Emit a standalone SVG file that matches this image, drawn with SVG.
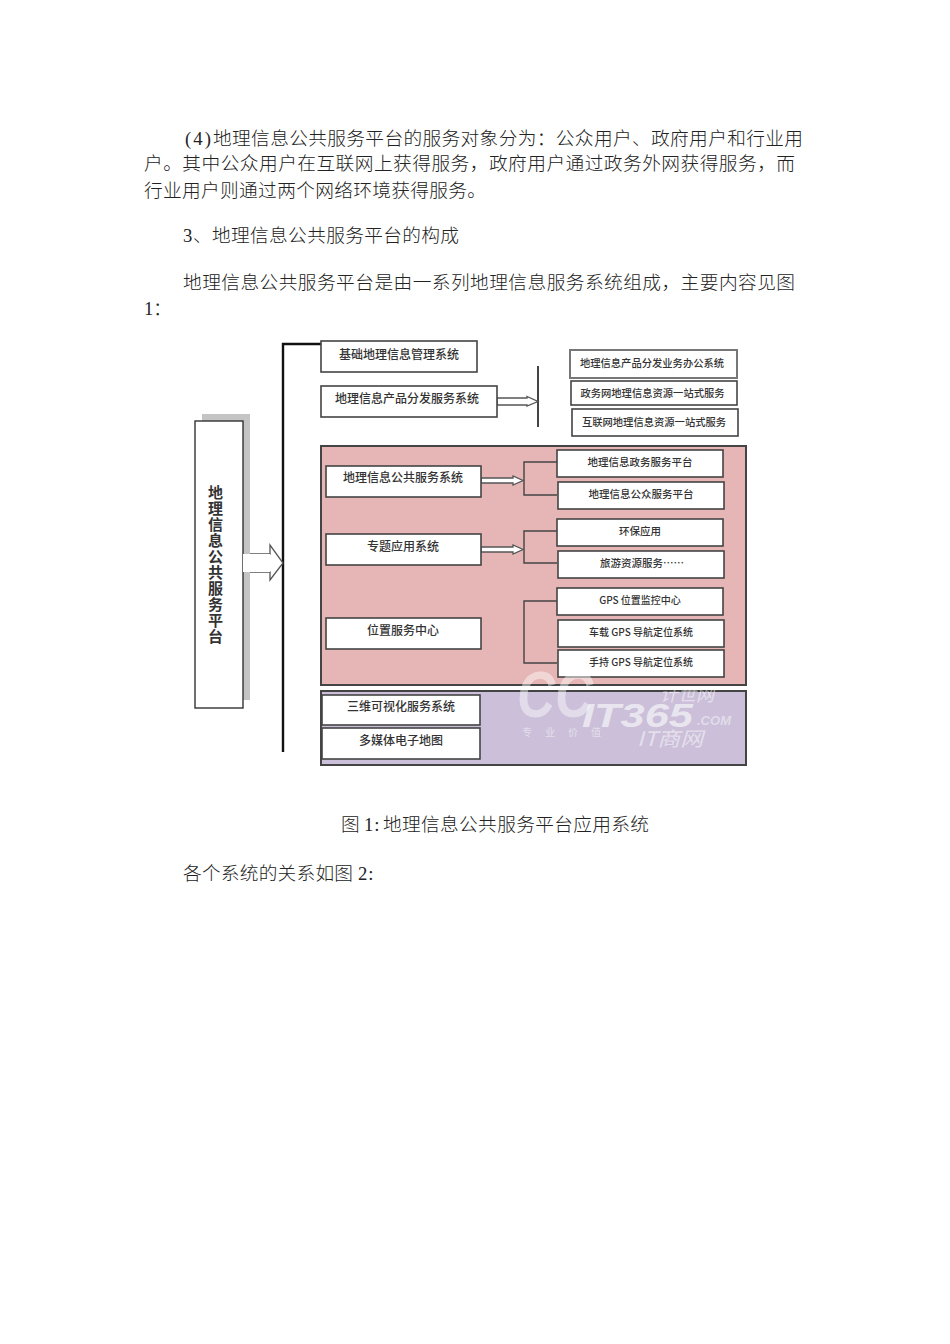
<svg xmlns="http://www.w3.org/2000/svg" width="950" height="1344" viewBox="0 0 950 1344">
<style>
text{font-family:"Noto Sans CJK SC",sans-serif}
.b{font-size:18.7px;fill:#222;font-weight:300}
.l{font-family:"Liberation Serif","Noto Sans CJK SC",serif;font-size:18.7px;fill:#222;letter-spacing:1px}
.n{fill:#fff;stroke:#444;stroke-width:1.6}
.t{font-size:12px;fill:#333;text-anchor:middle;font-weight:500}
.s{font-size:10.5px}
.x{font-size:10.3px}
.g{font-size:10px}
.c{fill:none;stroke:#444;stroke-width:1.4}
.a{fill:#fff;stroke:#555;stroke-width:1.3}
.w{font-family:"Liberation Sans",sans-serif;fill:#fff;fill-opacity:.45;font-style:italic;font-weight:bold}
.wc{font-family:"Noto Sans CJK SC",sans-serif;fill:#fff;fill-opacity:.5;font-style:italic}
</style>
<rect width="950" height="1344" fill="#fff"/>
<g id="body-text">
<text class="l" x="185" y="145" textLength="27">(4)</text>
<text class="b" x="213" y="145" textLength="590">地理信息公共服务平台的服务对象分为：公众用户、政府用户和行业用</text>
<text class="b" x="144" y="170" textLength="651">户。其中公众用户在互联网上获得服务，政府用户通过政务外网获得服务，而</text>
<text class="b" x="144" y="197" textLength="342">行业用户则通过两个网络环境获得服务。</text>
<text class="l" x="183" y="242">3</text>
<text class="b" x="193" y="242">、</text>
<text class="b" x="212" y="242" textLength="247">地理信息公共服务平台的构成</text>
<text class="b" x="183" y="289" textLength="612">地理信息公共服务平台是由一系列地理信息服务系统组成，主要内容见图</text>
<text class="l" x="144" y="315">1</text>
<text class="b" x="153" y="315">：</text>
<text class="b" x="341" y="831">图</text>
<text class="l" x="364" y="831">1:</text>
<text class="b" x="383" y="831" textLength="266">地理信息公共服务平台应用系统</text>
<text class="b" x="183" y="880" textLength="170">各个系统的关系如图</text>
<text class="l" x="358" y="880">2:</text>
</g>
<g id="panels">
<rect id="panel-pink" x="321" y="446" width="425" height="239" fill="#e6b5b5" stroke="#444" stroke-width="2"/>
<rect id="panel-purple" x="321" y="691" width="425" height="74" fill="#cbbfd9" stroke="#444" stroke-width="2"/>
</g>
<g id="connectors">
<path d="M322 344H283V752" fill="none" stroke="#111" stroke-width="2.4"/>
<path class="c" d="M538 366V427" style="stroke-width:2"/>
<path class="c" d="M557 462H524V495H557M557 531H524V563H557M557 601H524V663H557"/>
<path class="a" d="M243 554H270V545L283 563L270 580V572H243Z"/>
<path class="a" d="M497 398H527V396.500L538 401.500L527 406V405H497Z"/>
<path class="a" d="M481 478H513V476L523 480.500L513 485V483H481Z"/>
<path class="a" d="M481 547H513V545L523 549.500L513 554V552H481Z"/>
</g>
<g id="main"><rect x="202" y="414" width="48" height="286" fill="#c4c4c4"/><rect x="195" y="421" width="48" height="287" fill="#fff" stroke="#333" stroke-width="1.4"/>
<path d="M243 554H270V572H243Z" fill="#fff"/>
<text x="215.500" y="485" font-size="15" font-weight="700" fill="#333" letter-spacing="1" style="writing-mode:vertical-rl">地理信息公共服务平台</text></g>
<g id="n1"><rect class="n" x="321" y="341" width="156" height="31"/><text class="t" x="399" y="359">基础地理信息管理系统</text></g>
<g id="n2"><rect class="n" x="321" y="386" width="176" height="31"/><text class="t" x="407" y="403">地理信息产品分发服务系统</text></g>
<g id="n3"><rect class="n" x="570" y="350" width="167" height="28" style="stroke:#777;stroke-width:2"/><text class="t x" x="652" y="367">地理信息产品分发业务办公系统</text></g>
<g id="n4"><rect class="n" x="571" y="381" width="166" height="24"/><text class="t x" x="652.500" y="397">政务网地理信息资源一站式服务</text></g>
<g id="n5"><rect class="n" x="572" y="409" width="166" height="27"/><text class="t x" x="654" y="426">互联网地理信息资源一站式服务</text></g>
<g id="n6"><rect class="n" x="326" y="466" width="155" height="31"/><text class="t" x="403" y="482">地理信息公共服务系统</text></g>
<g id="n7"><rect class="n" x="326" y="534" width="155" height="31"/><text class="t" x="403" y="551">专题应用系统</text></g>
<g id="n8"><rect class="n" x="326" y="618" width="155" height="31"/><text class="t" x="403" y="635">位置服务中心</text></g>
<g id="n9"><rect class="n" x="557" y="450" width="166" height="27"/><text class="t s" x="640" y="466">地理信息政务服务平台</text></g>
<g id="n10"><rect class="n" x="558" y="482" width="166" height="27"/><text class="t s" x="641" y="498">地理信息公众服务平台</text></g>
<g id="n11"><rect class="n" x="557" y="519" width="166" height="27"/><text class="t s" x="640" y="535">环保应用</text></g>
<g id="n12"><rect class="n" x="558" y="551" width="166" height="27"/><text class="t s" x="642" y="567">旅游资源服务……</text></g>
<g id="n13"><rect class="n" x="557" y="588" width="166" height="27"/><text class="t g" x="640" y="604">GPS 位置监控中心</text></g>
<g id="n14"><rect class="n" x="558" y="620" width="166" height="27"/><text class="t g" x="641" y="636">车载 GPS 导航定位系统</text></g>
<g id="n15"><rect class="n" x="558" y="650" width="166" height="27"/><text class="t g" x="641" y="666">手持 GPS 导航定位系统</text></g>
<g id="n16"><rect class="n" x="322" y="695" width="158" height="30"/><text class="t" x="401" y="711">三维可视化服务系统</text></g>
<g id="n17"><rect class="n" x="322" y="728" width="158" height="31"/><text class="t" x="401" y="745">多媒体电子地图</text></g>
<g id="watermark"><text class="w" x="517" y="717" font-size="65" textLength="76" lengthAdjust="spacingAndGlyphs">CC</text><text class="w" x="582" y="727" font-size="34" textLength="111" lengthAdjust="spacingAndGlyphs" style="fill-opacity:.6">IT365</text><text class="w" x="697" y="725" font-size="13" textLength="34" lengthAdjust="spacingAndGlyphs">.COM</text><text class="wc" x="637" y="746" font-size="20" textLength="66" lengthAdjust="spacingAndGlyphs">IT商网</text><text class="wc" x="660" y="701" font-size="18">计世网</text><text class="wc" x="522" y="736" font-size="10" letter-spacing="13" style="font-style:normal">专业价值</text></g>
</svg>
